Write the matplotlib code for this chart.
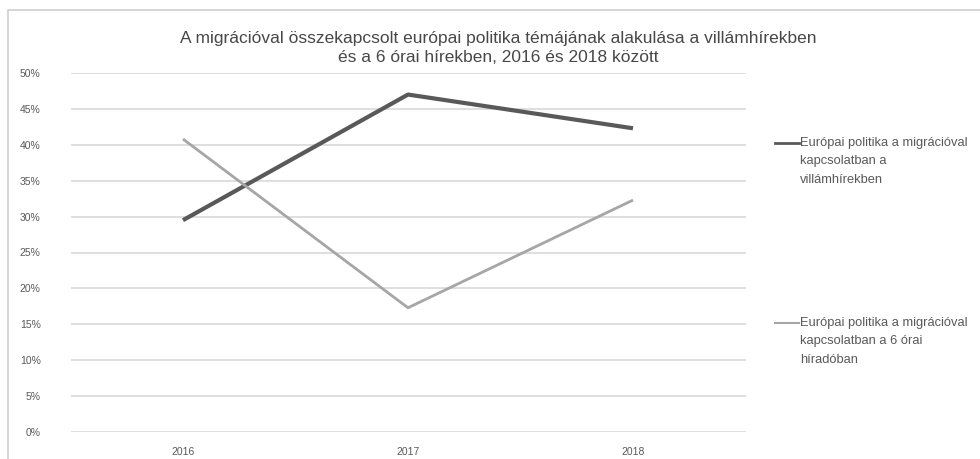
import matplotlib
matplotlib.use("Agg")
import matplotlib.pyplot as plt
from matplotlib.lines import Line2D
from matplotlib.patches import Rectangle
from matplotlib.ticker import FuncFormatter, MultipleLocator

plt.rcParams['font.family'] = ['Liberation Sans Narrow', 'Liberation Sans', 'DejaVu Sans']

# adatok
years = ['2016', '2017', '2018']
villam = [29.5, 47.0, 42.3]
hirado = [40.8, 17.3, 32.3]
series_names = [
    'Európai politika a migrációval\nkapcsolatban a\nvillámhírekben',
    'Európai politika a migrációval\nkapcsolatban a 6 órai\nhíradóban',
]
title = ('A migrációval összekapcsolt európai politika témájának alakulása a villámhírekben\n'
         'és a 6 órai hírekben, 2016 és 2018 között')

dark = '#595959'
light = '#a6a6a6'
grid = '#d9d9d9'
txt = '#595959'

fig = plt.figure(figsize=(9.8, 4.59), dpi=100)
fig.patch.set_facecolor('white')

# keret a diagram körül
fig.add_artist(Rectangle((8 / 980, -0.05), 1.1, 1 - 10 / 459 + 0.05,
                         transform=fig.transFigure, fill=False,
                         edgecolor='#d0d0d0', linewidth=1.2))

ax = fig.add_axes([70.5 / 980, 1 - 432 / 459, 675 / 980, 359 / 459])
x = range(len(years))
ax.plot(x, villam, color=dark, linewidth=3, solid_capstyle='butt')
ax.plot(x, hirado, color=light, linewidth=2, solid_capstyle='butt')

ax.set_xlim(-0.5, len(years) - 0.5)
ax.set_ylim(0, 50)
ax.yaxis.set_major_locator(MultipleLocator(5))
ax.yaxis.set_major_formatter(FuncFormatter(lambda v, p: f'{v:.0f}%'))
ax.set_xticks(list(x))
ax.set_xticklabels(years)
ax.grid(axis='y', color=grid, linewidth=1.2)
ax.set_axisbelow(True)
for s in ax.spines.values():
    s.set_visible(False)
ax.tick_params(axis='both', length=0, labelsize=7.5, labelcolor=txt)
ax.tick_params(axis='y', pad=21.5)
ax.tick_params(axis='x', pad=11)

fig.text(498 / 980, 1 - 31 / 459, title, ha='center', va='top',
         fontsize=12.5, color='#484848', linespacing=1.35)

# jelmagyarázat
for name, col, lw, yy in [(series_names[0], dark, 2, 143),
                          (series_names[1], light, 1.5, 323)]:
    fig.add_artist(Line2D([775 / 980, 799 / 980], [1 - yy / 459] * 2,
                          transform=fig.transFigure, color=col, linewidth=lw))
    fig.text(800 / 980, 1 - (yy - 6) / 459, name, ha='left', va='top',
             fontsize=9.3, color=txt, linespacing=1.7)

fig.savefig('out.png', dpi=100, facecolor='white')
